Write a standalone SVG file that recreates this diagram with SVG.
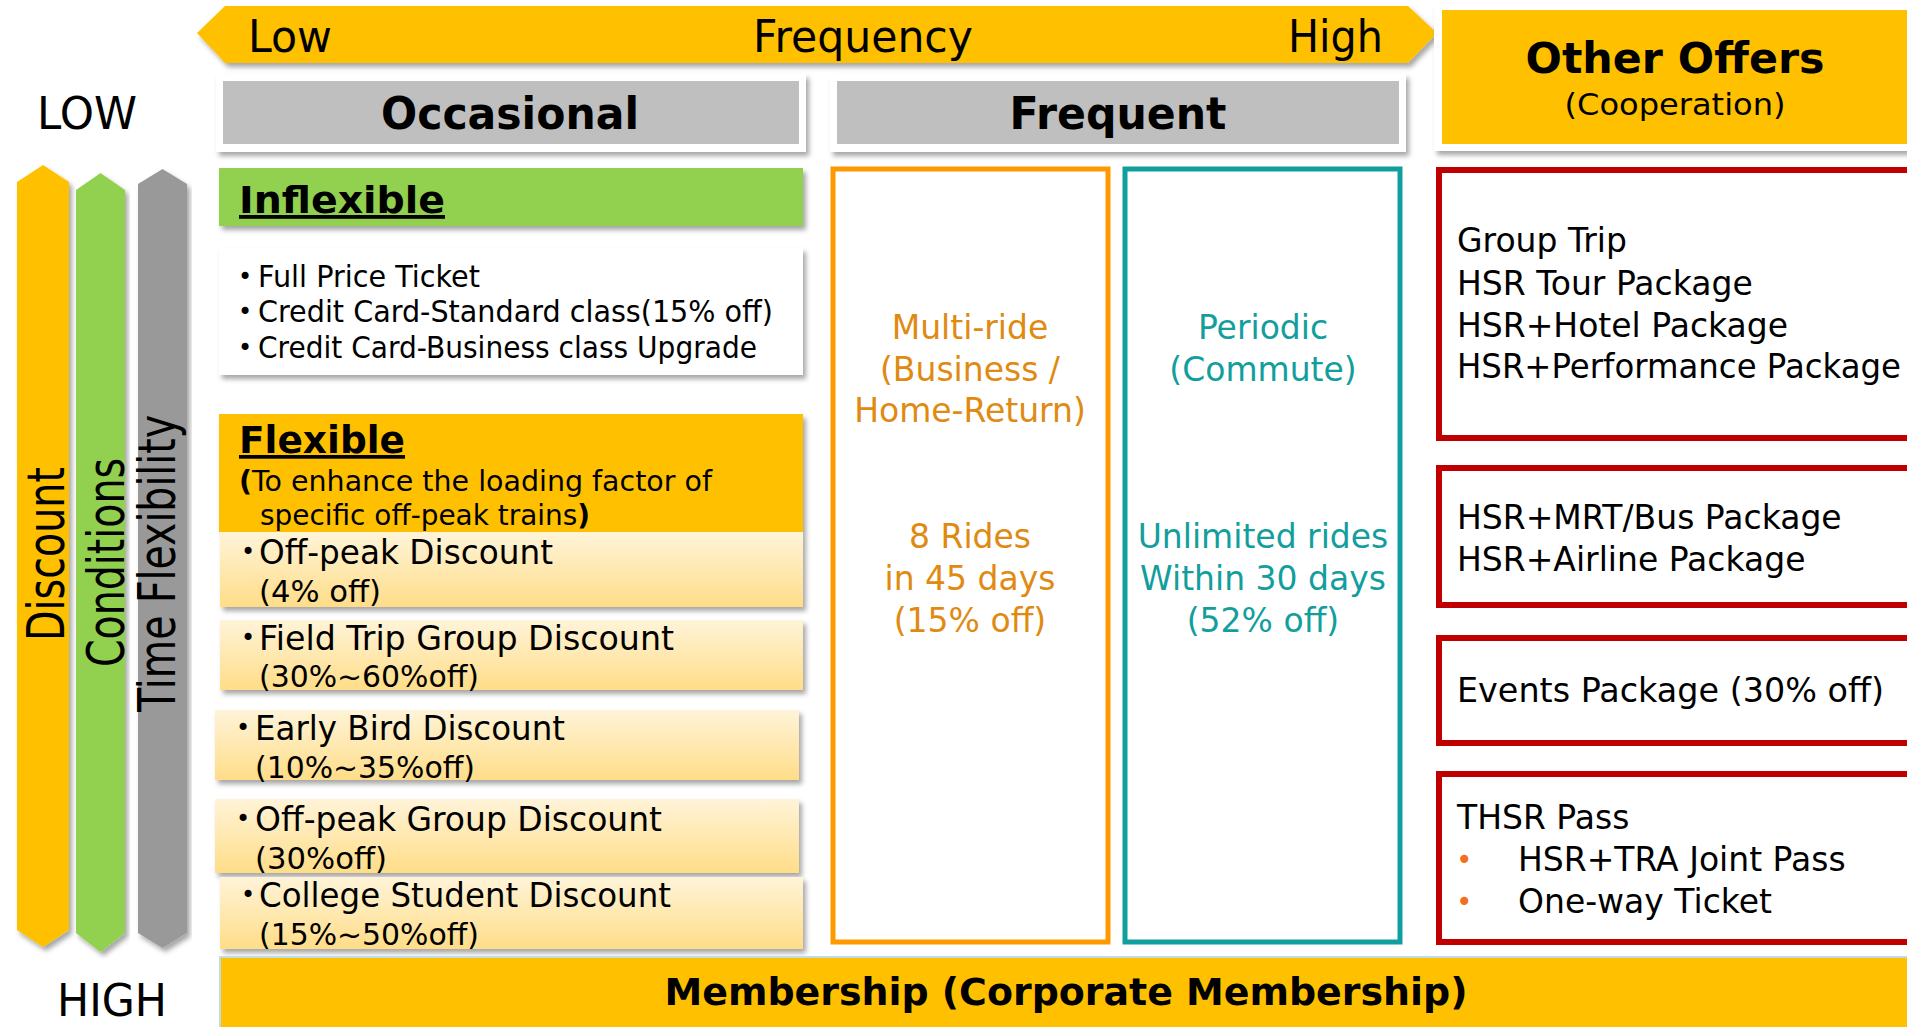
<svg xmlns="http://www.w3.org/2000/svg" width="1907" height="1027" viewBox="0 0 1907 1027">
  <defs>
    <filter id="shadow" x="-5%" y="-10%" width="115%" height="130%">
      <feDropShadow dx="3" dy="4" stdDeviation="2.5" flood-color="#000" flood-opacity="0.35"/>
    </filter>
    <linearGradient id="itemFill" x1="0" y1="0" x2="0" y2="1">
      <stop offset="0" stop-color="#FFF4D9"/>
      <stop offset="1" stop-color="#FFDD88"/>
    </linearGradient>
    <style>
      text { font-family: "DejaVu Sans", Verdana, sans-serif; fill: #000; }
      .big { font-size: 45px; }
      .head { font-size: 45px; font-weight: bold; }
      .body { font-size: 33px; }
      .small { font-size: 30px; }
      .note { font-size: 28px; }
      .bold { font-weight: bold; }
      .ul { text-decoration: underline; }
      .mid { text-anchor: middle; }
      .vert { font-size: 52px; }
      .orange { fill: #FFC000; }
      .green { fill: #92D050; }
      .grayArrow { fill: #999999; }
      .hdr { fill: #BFBFBF; }
      .frame { fill: #FFFFFF; }
      .item { fill: url(#itemFill); }
      .redBox { fill: none; stroke: #C00000; stroke-width: 6; }
      .multiText { fill: #E08A12; }
      .periodText { fill: #139E9E; }
      .dot { font-size: 24px; }
      .odot { font-size: 28px; fill: #F07020; }
    </style>
  </defs>

  <rect width="1907" height="1027" fill="#FFFFFF"/>

  <!-- frequency scale arrow -->
  <g id="frequency-arrow">
    <polygon class="orange" filter="url(#shadow)" points="197,33 225,6 1408,6 1437,33 1408,63 225,63"/>
    <text class="big" x="248" y="52" textLength="84" lengthAdjust="spacingAndGlyphs">Low</text>
    <text class="big" x="753" y="52" textLength="220" lengthAdjust="spacingAndGlyphs">Frequency</text>
    <text class="big" x="1288" y="52" textLength="95" lengthAdjust="spacingAndGlyphs">High</text>
  </g>

  <!-- LOW / HIGH scale with the three vertical arrows -->
  <g id="scale-labels">
    <text class="big" x="37" y="129" textLength="100" lengthAdjust="spacingAndGlyphs">LOW</text>
    <text class="big" x="57" y="1016" textLength="110" lengthAdjust="spacingAndGlyphs">HIGH</text>
  </g>
  <g id="discount-arrow">
    <polygon class="orange" filter="url(#shadow)" points="17,182 43,165 69,182 69,930 43,947 17,930"/>
    <text class="vert" transform="translate(64,641) rotate(-90)" textLength="174" lengthAdjust="spacingAndGlyphs">Discount</text>
  </g>
  <g id="conditions-arrow">
    <polygon class="green" filter="url(#shadow)" points="76,190 100.5,173 125,190 125,933 100.5,952 76,933"/>
    <text class="vert" transform="translate(124,667) rotate(-90)" textLength="209" lengthAdjust="spacingAndGlyphs">Conditions</text>
  </g>
  <g id="time-flexibility-arrow">
    <polygon class="grayArrow" filter="url(#shadow)" points="138,184 162.5,169 187,184 187,933 162.5,948 138,933"/>
    <text class="vert" transform="translate(175,712) rotate(-90)" textLength="297" lengthAdjust="spacingAndGlyphs">Time Flexibility</text>
  </g>

  <!-- column headers -->
  <g id="occasional-header">
    <rect class="frame" filter="url(#shadow)" x="216" y="74" width="590" height="78"/>
    <rect class="hdr" x="223" y="81" width="576" height="63"/>
    <text class="head mid" x="510" y="129" textLength="258" lengthAdjust="spacingAndGlyphs">Occasional</text>
  </g>
  <g id="frequent-header">
    <rect class="frame" filter="url(#shadow)" x="830" y="74" width="576" height="78"/>
    <rect class="hdr" x="837" y="81" width="562" height="63"/>
    <text class="head mid" x="1118" y="129" textLength="217" lengthAdjust="spacingAndGlyphs">Frequent</text>
  </g>
  <g id="other-offers-header">
    <rect class="frame" filter="url(#shadow)" x="1434" y="4" width="490" height="147"/>
    <rect class="orange" x="1442" y="10" width="480" height="134"/>
    <text class="mid bold" x="1675" y="73" font-size="43" textLength="299" lengthAdjust="spacingAndGlyphs">Other Offers</text>
    <text class="small mid" x="1675" y="115" textLength="221" lengthAdjust="spacingAndGlyphs">(Cooperation)</text>
  </g>

  <!-- occasional: inflexible tickets -->
  <g id="inflexible">
    <rect class="green" filter="url(#shadow)" x="219" y="168" width="584" height="58"/>
    <text class="bold ul" x="239" y="213" font-size="38" textLength="206" lengthAdjust="spacingAndGlyphs">Inflexible</text>
  </g>
  <g id="inflexible-list">
    <rect class="frame" filter="url(#shadow)" x="219" y="248" width="584" height="127"/>
    <text class="dot" x="238" y="285">•</text>
    <text class="small" x="258" y="287" textLength="222" lengthAdjust="spacingAndGlyphs">Full Price Ticket</text>
    <text class="dot" x="238" y="320">•</text>
    <text class="small" x="258" y="322" textLength="515" lengthAdjust="spacingAndGlyphs">Credit Card-Standard class(15% off)</text>
    <text class="dot" x="238" y="356">•</text>
    <text class="small" x="258" y="358" textLength="499" lengthAdjust="spacingAndGlyphs">Credit Card-Business class Upgrade</text>
  </g>

  <!-- occasional: flexible tickets -->
  <g id="flexible">
    <rect class="orange" filter="url(#shadow)" x="219" y="414" width="584" height="118"/>
    <text class="bold ul" x="239" y="453" font-size="37" textLength="166" lengthAdjust="spacingAndGlyphs">Flexible</text>
    <text class="note" x="239" y="491" textLength="473" lengthAdjust="spacingAndGlyphs"><tspan class="bold">(</tspan>To enhance the loading factor of</text>
    <text class="note" x="260" y="525" textLength="330" lengthAdjust="spacingAndGlyphs">specific off-peak trains<tspan class="bold">)</tspan></text>
  </g>
  <g id="off-peak-discount">
    <rect class="item" filter="url(#shadow)" x="220" y="532" width="583" height="75"/>
    <text class="dot" x="241" y="560">•</text>
    <text class="body" x="259" y="564" textLength="294" lengthAdjust="spacingAndGlyphs">Off-peak Discount</text>
    <text class="small" x="259" y="602" textLength="122" lengthAdjust="spacingAndGlyphs">(4% off)</text>
  </g>
  <g id="field-trip-discount">
    <rect class="item" filter="url(#shadow)" x="220" y="620" width="583" height="70"/>
    <text class="dot" x="241" y="646">•</text>
    <text class="body" x="259" y="650" textLength="415" lengthAdjust="spacingAndGlyphs">Field Trip Group Discount</text>
    <text class="small" x="259" y="687" textLength="220" lengthAdjust="spacingAndGlyphs">(30%~60%off)</text>
  </g>
  <g id="early-bird-discount">
    <rect class="item" filter="url(#shadow)" x="215" y="710" width="584" height="70"/>
    <text class="dot" x="236" y="736">•</text>
    <text class="body" x="255" y="740" textLength="310" lengthAdjust="spacingAndGlyphs">Early Bird Discount</text>
    <text class="small" x="255" y="778" textLength="220" lengthAdjust="spacingAndGlyphs">(10%~35%off)</text>
  </g>
  <g id="off-peak-group-discount">
    <rect class="item" filter="url(#shadow)" x="215" y="799" width="584" height="74"/>
    <text class="dot" x="236" y="827">•</text>
    <text class="body" x="255" y="831" textLength="407" lengthAdjust="spacingAndGlyphs">Off-peak Group Discount</text>
    <text class="small" x="255" y="869" textLength="132" lengthAdjust="spacingAndGlyphs">(30%off)</text>
  </g>
  <g id="college-student-discount">
    <rect class="item" filter="url(#shadow)" x="220" y="877" width="583" height="72"/>
    <text class="dot" x="241" y="903">•</text>
    <text class="body" x="259" y="907" textLength="412" lengthAdjust="spacingAndGlyphs">College Student Discount</text>
    <text class="small" x="259" y="945" textLength="220" lengthAdjust="spacingAndGlyphs">(15%~50%off)</text>
  </g>

  <!-- frequent: multi-ride and periodic tickets -->
  <g id="multi-ride">
    <rect x="833" y="169" width="275" height="773" fill="none" stroke="#FF9900" stroke-width="5"/>
    <text class="body mid multiText" x="970" y="339">Multi-ride</text>
    <text class="body mid multiText" x="970" y="381">(Business /</text>
    <text class="body mid multiText" x="970" y="422">Home-Return)</text>
    <text class="body mid multiText" x="970" y="548">8 Rides</text>
    <text class="body mid multiText" x="970" y="590">in 45 days</text>
    <text class="body mid multiText" x="970" y="632">(15% off)</text>
  </g>
  <g id="periodic">
    <rect x="1125" y="169" width="275" height="773" fill="none" stroke="#119E9E" stroke-width="5"/>
    <text class="body mid periodText" x="1263" y="339">Periodic</text>
    <text class="body mid periodText" x="1263" y="381">(Commute)</text>
    <text class="body mid periodText" x="1263" y="548">Unlimited rides</text>
    <text class="body mid periodText" x="1263" y="590">Within 30 days</text>
    <text class="body mid periodText" x="1263" y="632">(52% off)</text>
  </g>

  <!-- other offers -->
  <g id="packages">
    <rect class="redBox" x="1439" y="170" width="480" height="268"/>
    <text class="body" x="1457" y="252">Group Trip</text>
    <text class="body" x="1457" y="295">HSR Tour Package</text>
    <text class="body" x="1457" y="337">HSR+Hotel Package</text>
    <text class="body" x="1457" y="378" textLength="444" lengthAdjust="spacingAndGlyphs">HSR+Performance Package</text>
  </g>
  <g id="transport-packages">
    <rect class="redBox" x="1439" y="468" width="480" height="137"/>
    <text class="body" x="1457" y="529">HSR+MRT/Bus Package</text>
    <text class="body" x="1457" y="571">HSR+Airline Package</text>
  </g>
  <g id="events-package">
    <rect class="redBox" x="1439" y="638" width="480" height="105"/>
    <text class="body" x="1457" y="702" textLength="427" lengthAdjust="spacingAndGlyphs">Events Package (30% off)</text>
  </g>
  <g id="thsr-pass">
    <rect class="redBox" x="1439" y="774" width="480" height="168"/>
    <text class="body" x="1457" y="829">THSR Pass</text>
    <text class="odot" x="1456" y="869">•</text>
    <text class="body" x="1518" y="871">HSR+TRA Joint Pass</text>
    <text class="odot" x="1456" y="911">•</text>
    <text class="body" x="1518" y="913">One-way Ticket</text>
  </g>

  <!-- membership bar -->
  <g id="membership">
    <rect class="orange" x="220" y="957" width="1700" height="80" stroke="#BFDCE6" stroke-width="2"/>
    <text class="bold mid" x="1066" y="1005" font-size="37" textLength="803" lengthAdjust="spacingAndGlyphs">Membership (Corporate Membership)</text>
  </g>
</svg>
